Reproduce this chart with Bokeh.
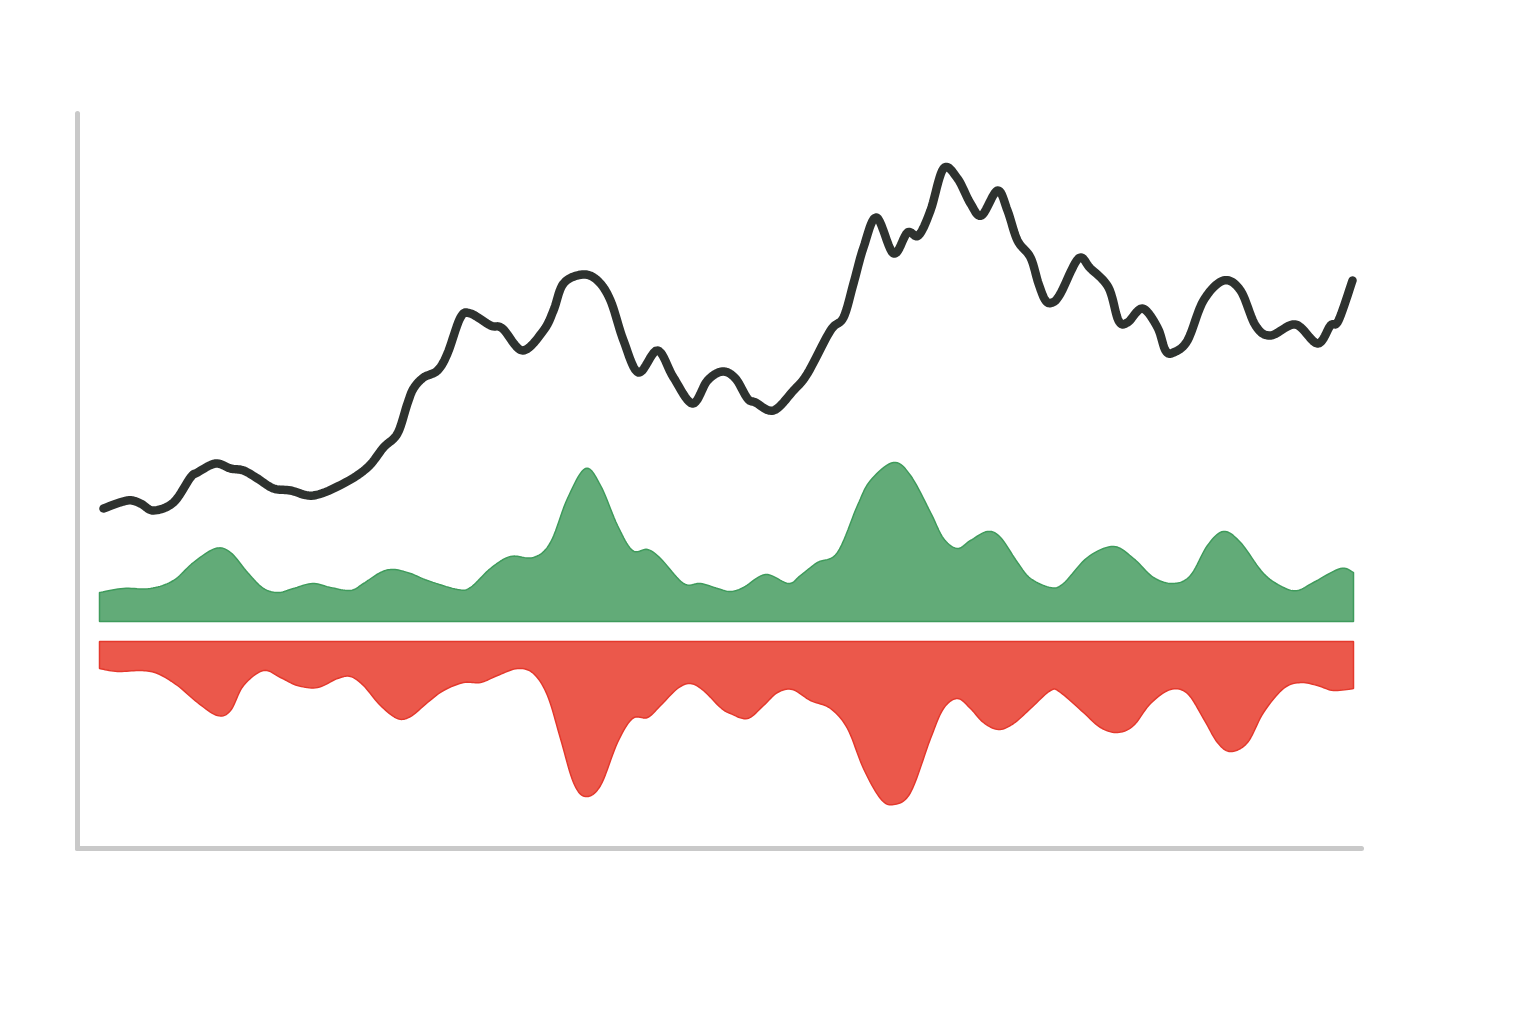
import numpy as np
from bokeh.plotting import figure
from bokeh.models import Range1d, LinearAxis, FixedTicker
from bokeh.embed import file_html
from bokeh.resources import INLINE

# ---- data (time index 0..~251) ----
price_t = [0.8, 5.6, 8.2, 10.8, 14.8, 18.2, 19.6, 23.2, 26.2, 28.8, 31.6, 34.8, 38.2, 42.8, 48.8,
           53.6, 56.8, 59.6, 61.6, 62.8, 64.8, 67.6, 69.6, 72.2, 74.2, 78.2, 80.6, 84.6, 88.8,
           90.8, 92.8, 96.6, 99.6, 102.2, 104.8, 107.8, 111.6, 114.8, 118.6, 121.6, 124.6, 127.2,
           129.6, 131.2, 134.8, 138.8, 141.6, 146.2, 148.8, 150.8, 152.8, 155.4, 158.8, 161.6,
           163.8, 166.2, 168.8, 171.6, 174.2, 176.4, 179.6, 181.6, 183.6, 186.2, 187.8, 189.2,
           190.6, 192.2, 195.8, 198.2, 201.8, 203.8, 205.6, 208.6, 211.6, 213.2, 214.8, 217.6,
           220.8, 224.8, 228.2, 231.2, 234.2, 239.2, 243.6, 246.2, 247.8, 250.6]
price_v = [18.4, 20.0, 19.4, 18.0, 19.6, 24.6, 25.6, 27.4, 26.4, 26.0, 24.4, 22.4, 22.0, 21.0, 23.4,
           26.6, 30.6, 33.4, 39.4, 42.4, 44.6, 46.0, 49.4, 56.6, 57.4, 55.0, 54.4, 50.0, 54.0,
           58.0, 63.4, 65.2, 64.0, 60.0, 52.0, 45.6, 50.0, 44.6, 39.4, 44.0, 45.8, 44.4,
           40.4, 39.6, 38.0, 42.0, 45.4, 54.0, 56.6, 63.4, 70.6, 76.6, 69.4, 73.6,
           73.0, 78.0, 86.4, 84.4, 79.4, 77.0, 82.0, 78.0, 72.0, 68.6, 63.4, 60.0,
           59.6, 61.4, 68.4, 66.4, 62.6, 56.0, 55.6, 58.4, 54.6, 50.0, 49.6, 52.0,
           60.0, 64.0, 62.0, 55.0, 53.0, 55.2, 51.4, 55.0, 56.0, 64.0]

inflow_t = [0, 4.8, 10.2, 14.8, 18.8, 23.2, 26.2, 29.6, 32.8, 35.8, 38.8, 42.6, 46.2, 50.2, 52.8,
            56.2, 58.8, 62.2, 65.6, 71.6, 74.2, 78.2, 82.2, 86.8, 90.2, 93.6, 97.2, 100.2, 103.6,
            106.6, 109.6, 112.2, 116.8, 120.2, 123.6, 126.2, 128.8, 133.2, 137.8, 140.2, 143.6,
            147.6, 151.6, 154.2, 158.8, 162.2, 166.2, 168.8, 171.6, 174.2, 177.6, 180.2, 183.6,
            186.2, 190.2, 192.8, 197.6, 202.8, 206.8, 210.8, 214.8, 218.2, 221.6, 224.8, 228.2,
            232.8, 236.8, 239.6, 242.8, 248.2, 250.8]
inflow_v = [14.5, 16.5, 16.5, 20.5, 29.5, 36.5, 34.5, 24.5, 16.5, 14.5, 16.5, 19.0, 17.0, 15.5, 19.0,
            24.5, 26.0, 24.0, 20.5, 16.0, 17.0, 26.5, 32.5, 32.0, 39.5, 61.5, 76.5, 68.0, 48.0,
            35.5, 36.0, 31.5, 19.0, 19.0, 16.5, 15.0, 17.0, 23.5, 19.0, 23.0, 29.5,
            34.5, 58.0, 70.5, 79.5, 73.0, 54.5, 41.5, 36.5, 40.5, 45.0, 42.0, 29.5,
            21.5, 17.0, 19.0, 32.0, 37.5, 31.5, 22.0, 19.0, 23.0, 38.0, 45.0, 39.5,
            24.0, 17.0, 15.5, 19.5, 26.5, 24.5]

outflow_t = [0, 3.6, 8.2, 11.6, 15.6, 19.6, 23.6, 26.2, 28.8, 32.8, 36.2, 39.6, 43.6, 47.6, 50.2,
             52.8, 56.2, 59.6, 62.2, 65.6, 68.8, 72.8, 76.2, 79.6, 83.6, 86.8, 89.6, 92.2, 94.8,
             97.2, 100.2, 103.6, 106.6, 109.6, 112.2, 115.6, 118.2, 120.8, 124.2, 126.2, 129.6,
             132.8, 135.6, 138.6, 142.2, 146.2, 149.6, 152.8, 156.2, 158.8, 162.2, 166.2, 168.8,
             171.6, 174.2, 176.8, 179.8, 182.8, 186.2, 190.2, 192.2, 196.8, 200.2, 203.6, 206.8,
             210.2, 214.2, 217.6, 220.8, 223.6, 226.2, 229.6, 232.8, 236.8, 240.2, 243.6, 246.8,
             250.8]
outflow_v = [-13.5, -15.0, -14.5, -16.0, -22.0, -30.5, -37.0, -34.5, -22.0, -14.5, -18.0, -22.0,
             -23.0, -18.5, -17.5, -22.0, -32.0, -38.5, -37.5, -30.5, -24.5, -20.5, -20.5, -17.0,
             -13.5, -16.0, -27.0, -48.5, -70.5, -77.5, -72.0, -50.5, -38.5, -38.0, -32.0, -23.5,
             -21.0, -24.5, -33.0, -36.0, -38.5, -32.0, -25.5, -24.0, -29.5, -33.5, -43.5, -63.5,
             -78.5, -81.5, -75.5, -48.5, -33.5, -28.5, -33.5, -40.5, -44.0, -41.0, -33.5, -24.5,
             -25.5, -35.5, -43.0, -45.5, -42.0, -31.0, -24.0, -26.0, -38.5, -50.5, -55.0, -50.5,
             -35.5, -23.5, -20.5, -22.0, -24.5, -23.5]


def smooth(xs, ys, steps=10):
    """Catmull-Rom rendering of the read points (curve passes through every point)."""
    x = np.asarray(xs, float)
    y = np.asarray(ys, float)
    px = np.concatenate([[x[0]], x, [x[-1]]])
    py = np.concatenate([[y[0]], y, [y[-1]]])
    ox, oy = [], []
    s = np.linspace(0, 1, steps, endpoint=False)
    for i in range(1, len(px) - 2):
        for arr, out in ((px, ox), (py, oy)):
            p0, p1, p2, p3 = arr[i - 1], arr[i], arr[i + 1], arr[i + 2]
            out.extend(0.5 * ((2 * p1) + (-p0 + p2) * s + (2 * p0 - 5 * p1 + 4 * p2 - p3) * s ** 2
                              + (-p0 + 3 * p1 - 3 * p2 + p3) * s ** 3))
    ox.append(x[-1])
    oy.append(y[-1])
    return ox, oy


p = figure(width=1520, height=1000, output_backend="svg", toolbar_location=None,
           x_range=Range1d(-4.4, 252.4), y_range=Range1d(-49.6, 97.4),
           min_border_left=77, min_border_right=159, min_border_top=113, min_border_bottom=152,
           x_axis_location=None, y_axis_location=None)
p.extra_y_ranges = {"inflow": Range1d(-113.5, 254), "outflow": Range1d(-103.5, 264)}
p.outline_line_color = None
p.xgrid.visible = False
p.ygrid.visible = False
p.background_fill_color = "white"
p.border_fill_color = "white"

for loc in ("below", "left"):
    ax = LinearAxis(ticker=FixedTicker(ticks=[]))
    ax.axis_line_color = "#c9c9c9"
    ax.axis_line_width = 5
    ax.axis_line_cap = "round"
    ax.major_tick_line_color = None
    ax.minor_tick_line_color = None
    p.add_layout(ax, loc)

# inflow (green) area
sx, sy = smooth(inflow_t, inflow_v)
p.patch(sx + sx[::-1], sy + [0] * len(sx), y_range_name="inflow",
        fill_color="#62ab78", line_color="#3f9b5c", line_width=1.5)

# outflow (red) area
sx, sy = smooth(outflow_t, outflow_v)
p.patch(sx + sx[::-1], sy + [0] * len(sx), y_range_name="outflow",
        fill_color="#eb584b", line_color="#e4392d", line_width=1.5)

# price line
sx, sy = smooth(price_t, price_v)
p.line(sx, sy, line_color="#2e322f", line_width=8.5, line_join="round", line_cap="round")

open("out.html", "w").write(file_html(p, INLINE))
